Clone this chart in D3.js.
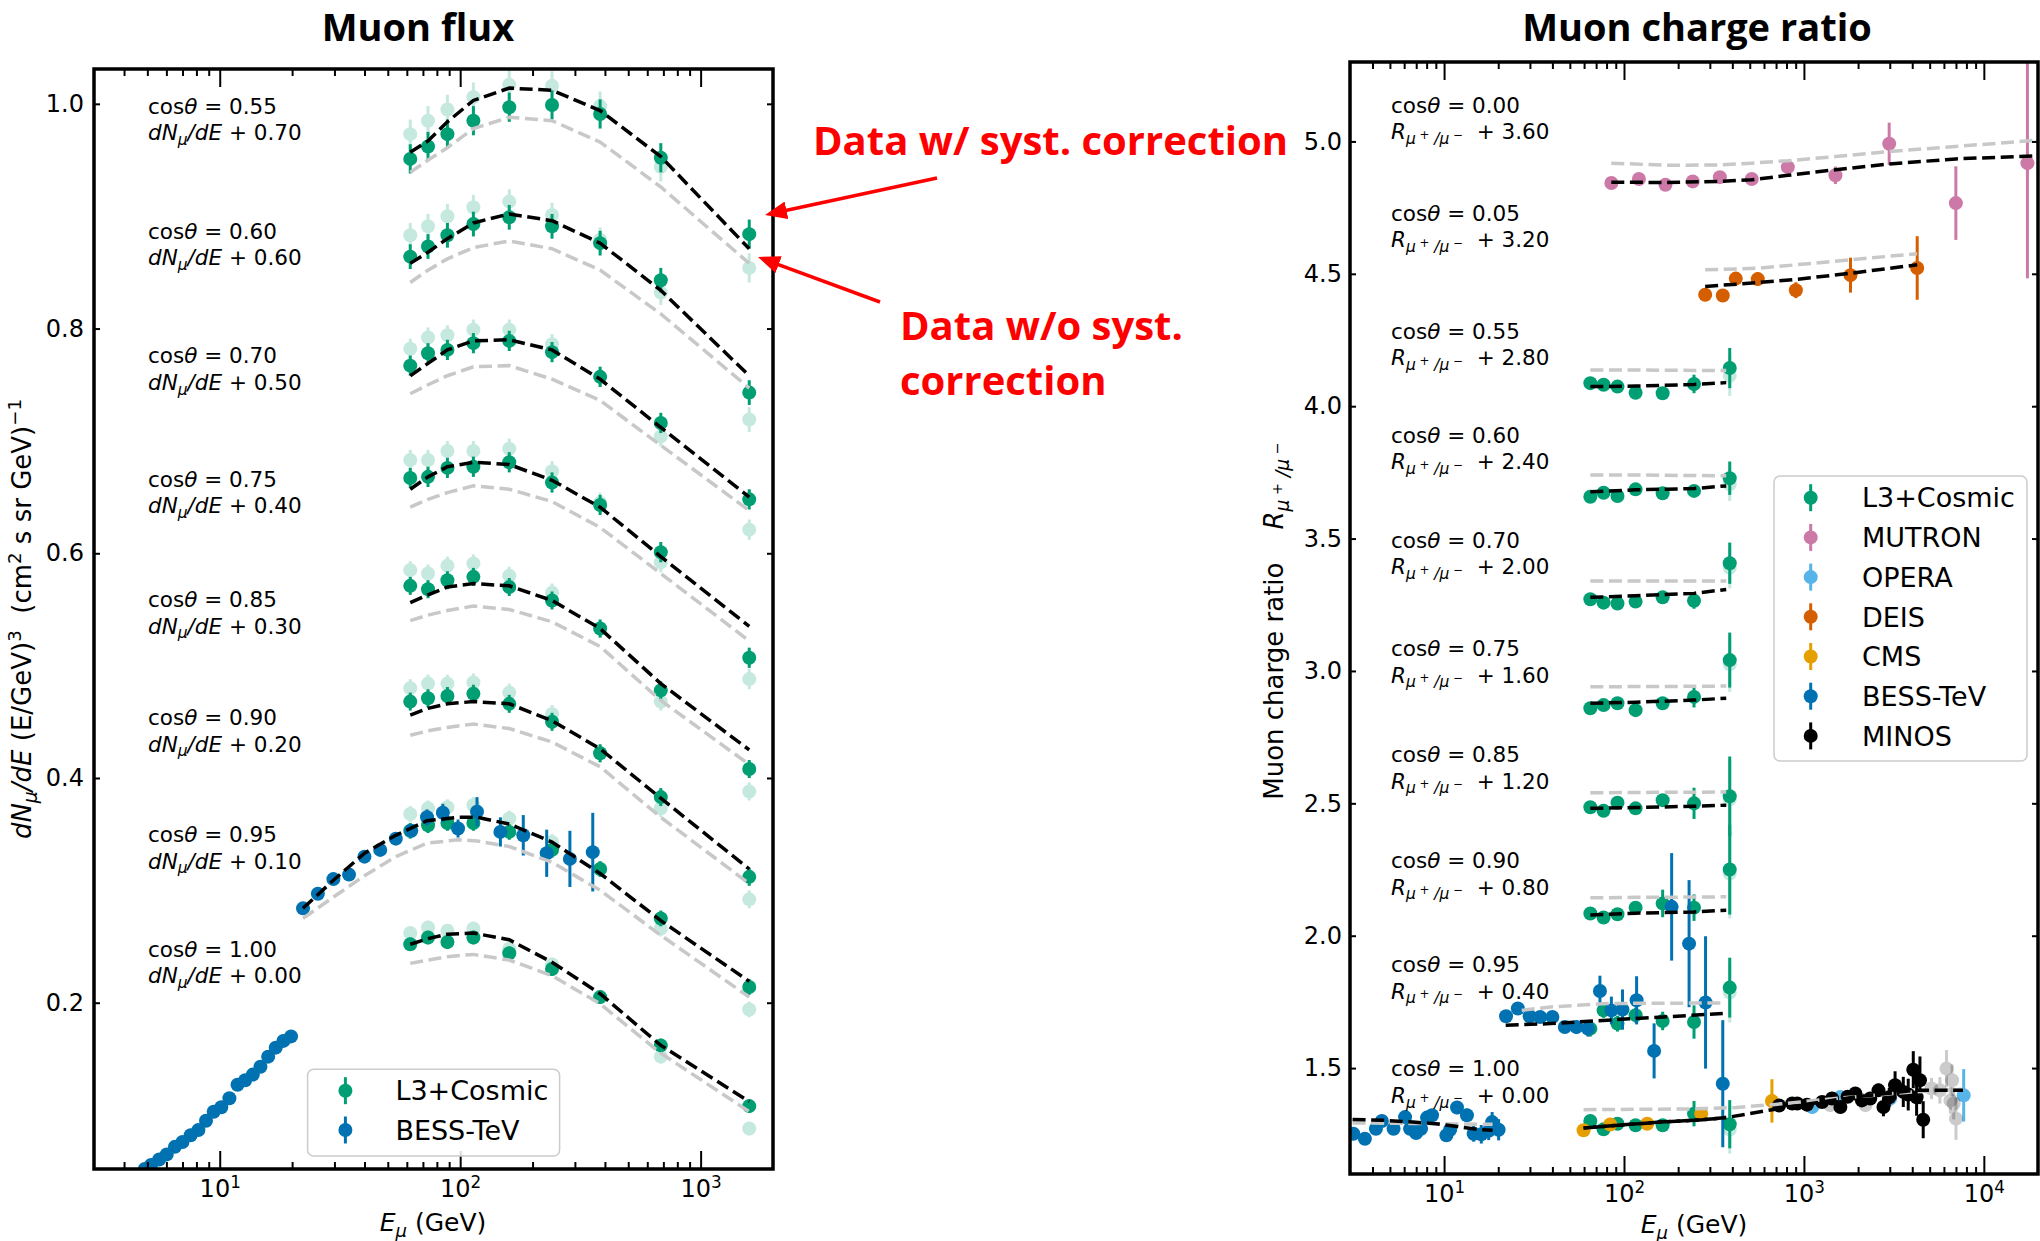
<!DOCTYPE html>
<html>
<head>
<meta charset="utf-8">
<title>Muon flux and charge ratio</title>
<script src="https://cdn.jsdelivr.net/npm/d3@7/dist/d3.min.js"></script>
<style>
  body { margin: 0; background: #fff; }
  svg text { white-space: pre; }
</style>
</head>
<body>
<svg id="fig" width="2040" height="1241"></svg>
<script>
/* ---------- Muon flux data (E in GeV, values already shifted) ---------- */

var fluxCos    = ["0.55", "0.60", "0.70", "0.75", "0.85", "0.90", "0.95", "1.00"];
var fluxShift  = ["0.70", "0.60", "0.50", "0.40", "0.30", "0.20", "0.10", "0.00"];
var fluxLabelY = [0.991, 0.880, 0.769, 0.659, 0.552, 0.447, 0.343, 0.241];

var l3FluxE = [62, 73.5, 88.5, 113.5, 160, 241, 382, 683, 1593];

var l3Flux = [
  [0.951, 0.962, 0.973, 0.985, 0.997, 0.999, 0.991, 0.952, 0.884],
  [0.864, 0.873, 0.883, 0.893, 0.899, 0.891, 0.876, 0.843, 0.743],
  [0.767, 0.778, 0.781, 0.787, 0.789, 0.779, 0.757, 0.716, 0.648],
  [0.667, 0.668, 0.676, 0.677, 0.681, 0.663, 0.643, 0.601, 0.507],
  [0.571, 0.568, 0.576, 0.579, 0.570, 0.558, 0.533, 0.478, 0.408],
  [0.468, 0.471, 0.473, 0.475, 0.466, 0.450, 0.422, 0.383, 0.312],
  [0.353, 0.358, 0.360, 0.360, 0.352, 0.336, 0.319, 0.275, 0.214],
  [0.252, 0.258, 0.254, 0.258, 0.244, 0.230, 0.205, 0.162, 0.108]
];
var l3FluxRaw = [
  [0.973, 0.985, 0.995, 1.006, 1.017, 1.016, 0.998, 0.944, 0.854],
  [0.883, 0.891, 0.900, 0.908, 0.913, 0.901, 0.879, 0.832, 0.719],
  [0.782, 0.792, 0.794, 0.799, 0.799, 0.786, 0.757, 0.704, 0.621],
  [0.683, 0.683, 0.691, 0.691, 0.693, 0.673, 0.645, 0.592, 0.488],
  [0.585, 0.582, 0.589, 0.591, 0.580, 0.565, 0.533, 0.468, 0.388],
  [0.480, 0.484, 0.484, 0.485, 0.476, 0.457, 0.422, 0.373, 0.292],
  [0.368, 0.373, 0.374, 0.376, 0.364, 0.343, 0.319, 0.266, 0.194],
  [0.262, 0.267, 0.264, 0.266, 0.248, 0.234, 0.205, 0.152, 0.088]
];
var l3FluxErr = [0.013, 0.011, 0.009, 0.009, 0.008, 0.008, 0.007, 0.006];

var flux95ModelE = [22.2, 29.7, 40, 54, 72.8, 98, 117.5, 160, 241, 382, 683, 1593];
var fluxModel = [
  [0.957, 0.967, 0.984, 1.003, 1.014, 1.012, 0.994, 0.953, 0.871],
  [0.858, 0.868, 0.880, 0.894, 0.902, 0.896, 0.876, 0.834, 0.758],
  [0.758, 0.769, 0.781, 0.789, 0.790, 0.781, 0.755, 0.712, 0.650],
  [0.657, 0.668, 0.677, 0.681, 0.679, 0.665, 0.641, 0.597, 0.535],
  [0.556, 0.563, 0.570, 0.573, 0.571, 0.558, 0.533, 0.484, 0.425],
  [0.456, 0.462, 0.466, 0.468, 0.466, 0.451, 0.426, 0.382, 0.319],
  [0.284, 0.309, 0.333, 0.349, 0.362, 0.365, 0.365, 0.359, 0.343, 0.315, 0.273, 0.219],
  [0.252, 0.257, 0.261, 0.262, 0.256, 0.236, 0.208, 0.162, 0.112]
];
var fluxModelRaw = [
  [0.939, 0.950, 0.961, 0.978, 0.988, 0.985, 0.966, 0.926, 0.858],
  [0.841, 0.852, 0.862, 0.872, 0.878, 0.871, 0.852, 0.813, 0.747],
  [0.742, 0.750, 0.758, 0.766, 0.767, 0.755, 0.736, 0.696, 0.638],
  [0.641, 0.648, 0.654, 0.660, 0.657, 0.646, 0.623, 0.582, 0.522],
  [0.540, 0.545, 0.549, 0.553, 0.550, 0.539, 0.517, 0.469, 0.412],
  [0.438, 0.442, 0.445, 0.448, 0.444, 0.432, 0.410, 0.365, 0.306],
  [0.275, 0.294, 0.313, 0.330, 0.342, 0.345, 0.344, 0.339, 0.325, 0.300, 0.260, 0.205],
  [0.235, 0.238, 0.241, 0.243, 0.238, 0.224, 0.199, 0.155, 0.103]
];

var bessFlux95E   = [22.2, 25.6, 29.7, 34.5, 40, 46.5, 54, 62.6, 72.8, 84.7, 98, 117.5, 147, 183, 229, 286, 356];
var bessFlux95    = [0.284, 0.297, 0.310, 0.314, 0.330, 0.336, 0.346, 0.353, 0.365, 0.369, 0.355, 0.370, 0.352, 0.349, 0.333, 0.328, 0.334];
var bessFlux95Err = [0.003, 0.003, 0.003, 0.003, 0.003, 0.003, 0.004, 0.005, 0.007, 0.008, 0.008, 0.013, 0.013, 0.018, 0.021, 0.025, 0.035];

var bessFlux100E = [4.88, 5.18, 5.6, 6.02, 6.51, 7.0, 7.57, 8.15, 8.77, 9.44, 10.15, 10.97, 11.86, 12.76, 13.73, 14.77, 15.9, 17.1, 18.4, 19.8];
var bessFlux100  = [0.052, 0.0555, 0.0605, 0.065, 0.0717, 0.076, 0.082, 0.0866, 0.0949, 0.103, 0.107, 0.115, 0.127, 0.131, 0.136, 0.143, 0.152, 0.160, 0.166, 0.170];
var bessFlux100Err = 0.002;

/* ---------- Muon charge ratio data ---------- */

var ratioCos    = ["0.00", "0.05", "0.55", "0.60", "0.70", "0.75", "0.85", "0.90", "0.95", "1.00"];
var ratioShift  = ["3.60", "3.20", "2.80", "2.40", "2.00", "1.60", "1.20", "0.80", "0.40", "0.00"];
var ratioLabelY = [5.108, 4.700, 4.254, 3.861, 3.465, 3.056, 2.656, 2.255, 1.862, 1.469];

// L3+Cosmic, cos = 0.55 ... 1.00
var l3RatioE = [65, 77, 92, 116, 164, 245, 387];
var l3Ratio = [
  [4.087, 4.081, 4.074, 4.051, 4.049, 4.084, 4.144],
  [3.658, 3.673, 3.661, 3.686, 3.671, 3.680, 3.728],
  [3.271, 3.258, 3.255, 3.262, 3.278, 3.265, 3.407],
  [2.859, 2.871, 2.878, 2.852, 2.878, 2.902, 3.041],
  [2.485, 2.472, 2.502, 2.481, 2.512, 2.500, 2.527],
  [2.084, 2.069, 2.081, 2.106, 2.122, 2.106, 2.250],
  [1.649, 1.718, 1.668, 1.700, 1.678, 1.674, 1.804],
  [1.300, 1.269, 1.290, 1.284, 1.284, 1.328, 1.288]
];
var l3RatioErr = [
  [0.015, 0.015, 0.015, 0.015, 0.015, 0.035, 0.076],
  [0.012, 0.012, 0.012, 0.012, 0.012, 0.020, 0.063],
  [0.012, 0.012, 0.012, 0.012, 0.015, 0.030, 0.078],
  [0.012, 0.012, 0.012, 0.012, 0.015, 0.040, 0.104],
  [0.012, 0.012, 0.012, 0.012, 0.020, 0.059, 0.150],
  [0.015, 0.015, 0.015, 0.020, 0.052, 0.050, 0.170],
  [0.030, 0.028, 0.030, 0.028, 0.035, 0.063, 0.113],
  [0.020, 0.020, 0.020, 0.020, 0.020, 0.048, 0.091]
];
var l3RatioRawLast = [4.115, 3.705, 3.390, 3.025, 2.515, 2.235, 1.785, 1.268];

var l3RatioModelE = [65, 116, 245, 370];
var l3RatioModel = [
  [4.074, 4.076, 4.082, 4.089],
  [3.677, 3.684, 3.689, 3.699],
  [3.278, 3.284, 3.293, 3.308],
  [2.878, 2.882, 2.890, 2.897],
  [2.481, 2.484, 2.489, 2.493],
  [2.078, 2.085, 2.090, 2.096]
];
var l3RatioModelRaw = [
  [4.137, 4.137, 4.135, 4.135],
  [3.740, 3.740, 3.738, 3.737],
  [3.340, 3.340, 3.340, 3.340],
  [2.940, 2.941, 2.942, 2.943],
  [2.540, 2.541, 2.542, 2.543],
  [2.143, 2.145, 2.146, 2.147]
];

var ratio95ModelE    = [22, 39, 91, 354];
var ratio95Model     = [1.662, 1.668, 1.683, 1.706];
var ratio95ModelRawE = [27, 39, 80, 354];
var ratio95ModelRaw  = [1.718, 1.731, 1.744, 1.746];

var mutronE   = [85.1, 121, 170, 241, 341, 513, 814, 1497, 2978, 6990, 17470];
var mutron    = [4.843, 4.858, 4.836, 4.849, 4.865, 4.858, 4.903, 4.872, 4.991, 4.767, 4.918];
var mutronErr = [0.010, 0.010, 0.010, 0.010, 0.012, 0.012, 0.020, 0.033, 0.080, 0.139, 0.435];
var mutronModelE   = [85, 170, 341, 513, 814, 1497, 2978, 6990, 20000];
var mutronModel    = [4.846, 4.845, 4.849, 4.855, 4.872, 4.893, 4.915, 4.934, 4.946];
var mutronModelRaw = [4.918, 4.910, 4.911, 4.918, 4.927, 4.943, 4.962, 4.981, 5.005];

var deisE   = [282.6, 354, 418, 554, 902, 1815, 4262];
var deis    = [4.421, 4.418, 4.482, 4.480, 4.438, 4.495, 4.522];
var deisErr = [0.015, 0.015, 0.025, 0.025, 0.030, 0.066, 0.120];
var deisModelE   = [282.6, 554, 902, 1815, 4262];
var deisModel    = [4.452, 4.467, 4.479, 4.502, 4.534];
var deisModelRaw = [4.515, 4.521, 4.534, 4.553, 4.576];

var bessRatio95E   = [22.1, 25.7, 29.9, 34.2, 40, 46.9, 54.4, 63, 73.5, 85.1, 98.1, 117.5, 147, 184, 230, 284, 354];
var bessRatio95    = [1.696, 1.725, 1.696, 1.693, 1.693, 1.655, 1.655, 1.649, 1.791, 1.718, 1.721, 1.756, 1.565, 2.109, 1.970, 1.748, 1.441];
var bessRatio95Err = [0.012, 0.012, 0.012, 0.012, 0.015, 0.020, 0.025, 0.030, 0.058, 0.052, 0.076, 0.091, 0.104, 0.203, 0.240, 0.250, 0.240];

var bessRatio100E   = [3.13, 3.63, 4.18, 4.51, 5.24, 6.07, 6.47, 6.99, 7.45, 8.04, 8.57, 10.3, 10.8, 11.8, 13.4, 14.6, 16.1, 17.7, 18.5, 20.1];
var bessRatio100    = [1.252, 1.233, 1.271, 1.300, 1.271, 1.315, 1.271, 1.255, 1.271, 1.313, 1.322, 1.246, 1.267, 1.351, 1.322, 1.252, 1.250, 1.263, 1.296, 1.267];
var bessRatio100Err = [0.012, 0.012, 0.012, 0.012, 0.012, 0.015, 0.015, 0.015, 0.015, 0.018, 0.018, 0.020, 0.020, 0.025, 0.025, 0.030, 0.035, 0.035, 0.038, 0.040];
var bessModelE   = [3.1, 4.58, 6.7, 9.0, 11.6, 15.6, 18.6];
var bessModel    = [1.306, 1.303, 1.296, 1.290, 1.280, 1.268, 1.265];
var bessModelRaw = [1.293, 1.292, 1.291, 1.290, 1.289, 1.288, 1.288];

var cmsE   = [59.6, 83.8, 134.7, 268.5, 664];
var cms    = [1.265, 1.287, 1.290, 1.328, 1.376];
var cmsErr = [0.010, 0.010, 0.010, 0.015, 0.082];

var operaE   = [1112, 1595, 3013, 7727];
var opera    = [1.353, 1.391, 1.385, 1.397];
var operaErr = [0.015, 0.020, 0.030, 0.099];

var minosE   = [728, 861, 918, 1040, 1262, 1433, 1595, 1750, 1931, 2100, 2337, 2597, 2767, 2980, 3211, 3567, 3800, 4053, 4230, 4414, 4603];
var minos    = [1.359, 1.366, 1.366, 1.362, 1.372, 1.385, 1.353, 1.392, 1.404, 1.378, 1.385, 1.416, 1.353, 1.390, 1.435, 1.410, 1.400, 1.494, 1.390, 1.454, 1.305];
var minosErr = [0.008, 0.008, 0.009, 0.010, 0.010, 0.012, 0.014, 0.015, 0.017, 0.020, 0.022, 0.025, 0.035, 0.035, 0.053, 0.057, 0.060, 0.070, 0.070, 0.090, 0.070];

var fadedE   = [1400, 2200, 5117, 5700, 6200, 6520, 6660, 6800, 7000];
var faded    = [1.360, 1.360, 1.423, 1.416, 1.498, 1.378, 1.454, 1.366, 1.309];
var fadedErr = [0.015, 0.020, 0.040, 0.050, 0.070, 0.050, 0.060, 0.060, 0.080];

var vertModelE    = [59.6, 158, 274, 369, 668, 826, 1931, 4140, 7660];
var vertModel     = [1.274, 1.296, 1.305, 1.313, 1.343, 1.353, 1.391, 1.416, 1.416];
var vertModelRawE = [59.6, 250, 420, 668, 1500, 4000, 7660];
var vertModelRaw  = [1.343, 1.346, 1.351, 1.362, 1.385, 1.410, 1.420];

/* ---------- Style ---------- */

var FONT = "DejaVu Sans", TITLE_FONT = "Open Sans";
var COL = { l3: "#009e73", mutron: "#cc79a7", opera: "#56b4e9", deis: "#d55e00",
            cms: "#e69f00", bess: "#0072b2", minos: "#000000",
            model: "#000000", modelRaw: "#c8c8c8" };
var MARKER_R = 7, RAW_ALPHA = 0.22, NOTE_SIZE = 21.5;

var svg = d3.select("#fig").attr("font-family", FONT);

/* ---------- helpers ---------- */

function addDefs() {
  var defs = svg.append("defs");
  defs.append("marker")
    .attr("id", "redhead")
    .attr("viewBox", "0 0 22 18")
    .attr("refX", 14)
    .attr("refY", 9)
    .attr("markerUnits", "userSpaceOnUse")
    .attr("markerWidth", 22)
    .attr("markerHeight", 18)
    .attr("orient", "auto")
    .append("path")
    .attr("d", "M0,0 L22,9 L0,18 z")
    .attr("fill", "#ff0000");
  defs.append("clipPath").attr("id", "clipF").append("rect")
    .attr("x", 94).attr("y", 69).attr("width", 679).attr("height", 1100);
  defs.append("clipPath").attr("id", "clipR").append("rect")
    .attr("x", 1350).attr("y", 62).attr("width", 688).attr("height", 1112);
}

// text made of pieces: [string, kind, italic]; kind = "", "sub", "sup", "subsup"
function rich(text, parts, size) {
  var lift  = { base: 0, sub: 0.22, sup: -0.38, subsup: -0.02 };
  var scale = { base: 1, sub: 0.72, sup: 0.7, subsup: 0.55 };
  var cur = 0;
  parts.forEach(function(p) {
    var k = p[1] || "base";
    var target = lift[k] * size;
    text.append("tspan")
      .attr("dy", (target - cur).toFixed(2))
      .attr("font-size", scale[k] * size)
      .attr("font-style", p[2] ? "italic" : "normal")
      .text(p[0]);
    cur = target;
  });
  return text;
}

function frame(x, y, majorX, yTicks, labelPad) {
  var L = x.range()[0], R = x.range()[1], B = y.range()[0], T = y.range()[1];
  var minorX = [];
  for (var p = 0; p <= 4; p++)
    for (var m = 2; m <= 9; m++) {
      var v = m * Math.pow(10, p);
      if (v > x.domain()[0] && v < x.domain()[1]) minorX.push(v);
    }
  function put(axis, tx, ty) {
    var g = svg.append("g").attr("transform", "translate(" + tx + "," + ty + ")").call(axis);
    g.select(".domain").remove();
    g.selectAll("line").attr("stroke", "#000").attr("stroke-width", 2);
    g.attr("font-family", FONT).attr("font-size", 24);
    return g;
  }
  put(d3.axisBottom(x).tickValues(minorX).tickSize(-7).tickFormat(""), 0, B);
  put(d3.axisTop(x).tickValues(minorX).tickSize(-7).tickFormat(""), 0, T);
  var bx = put(d3.axisBottom(x).tickValues(majorX).tickSize(-18).tickFormat(""), 0, B);
  put(d3.axisTop(x).tickValues(majorX).tickSize(-18).tickFormat(""), 0, T);
  bx.selectAll(".tick").each(function(d) {
    var t = d3.select(this).append("text")
      .attr("y", 28).attr("text-anchor", "middle").attr("fill", "#000");
    rich(t, [["10"], [String(Math.round(Math.log10(d))), "sup"]], 24);
  });
  put(d3.axisLeft(y).tickValues(yTicks).tickSize(-6).tickPadding(labelPad)
        .tickFormat(d3.format(".1f")), L, 0)
    .selectAll("text").attr("fill", "#000");
  put(d3.axisRight(y).tickValues(yTicks).tickSize(-6).tickFormat(""), R, 0);
  svg.append("rect")
    .attr("x", L).attr("y", T).attr("width", R - L).attr("height", B - T)
    .attr("fill", "none").attr("stroke", "#000").attr("stroke-width", 3.5);
}

function points(g, x, y, E, V, Err, color, alpha) {
  var err = function(i) { return Array.isArray(Err) ? Err[i] : Err; };
  var pg = g.append("g").selectAll("g").data(V).join("g").attr("opacity", alpha);
  pg.append("line")
    .attr("x1", function(d, i) { return x(E[i]); })
    .attr("x2", function(d, i) { return x(E[i]); })
    .attr("y1", function(d, i) { return y(d - err(i)); })
    .attr("y2", function(d, i) { return y(d + err(i)); })
    .attr("stroke", color).attr("stroke-width", 3);
  pg.append("circle")
    .attr("cx", function(d, i) { return x(E[i]); })
    .attr("cy", function(d) { return y(d); })
    .attr("r", MARKER_R).attr("fill", color);
}

function dashed(g, x, y, E, V, color, offset) {
  g.append("path")
    .attr("d", d3.line().x(function(d, i) { return x(E[i]); }).y(function(d) { return y(d); })(V))
    .attr("fill", "none").attr("stroke", color).attr("stroke-width", 3.5)
    .attr("stroke-dasharray", "13,5.6").attr("stroke-dashoffset", offset || 0);
}

function legend(x0, y0, w, h, items, rowY, step, mx, tx) {
  var g = svg.append("g");
  g.append("rect").attr("x", x0).attr("y", y0).attr("width", w).attr("height", h)
    .attr("rx", 6).attr("fill", "#fff").attr("fill-opacity", 0.85)
    .attr("stroke", "#cccccc").attr("stroke-width", 1.5);
  items.forEach(function(it, i) {
    var cy = rowY + i * step;
    g.append("line").attr("x1", mx).attr("x2", mx).attr("y1", cy - 13.5).attr("y2", cy + 13.5)
      .attr("stroke", it[1]).attr("stroke-width", 3);
    g.append("circle").attr("cx", mx).attr("cy", cy).attr("r", MARKER_R).attr("fill", it[1]);
    g.append("text").attr("x", tx).attr("y", cy).attr("dy", "0.36em")
      .attr("font-size", 27).text(it[0]);
  });
}

addDefs();

/* ---------- left panel: Muon flux ---------- */

var xF = d3.scaleLog().domain([3, 2000]).range([94, 773]);
var yF = d3.scaleLinear().domain([0.052, 1.031]).range([1169, 69]);

var gF = svg.append("g").attr("clip-path", "url(#clipF)");
l3Flux.forEach(function(s, i) {
  points(gF, xF, yF, l3FluxE, l3FluxRaw[i], l3FluxErr[i], COL.l3, RAW_ALPHA);
});
l3Flux.forEach(function(s, i) {
  points(gF, xF, yF, l3FluxE, s, l3FluxErr[i], COL.l3, 1);
});
points(gF, xF, yF, bessFlux95E, bessFlux95, bessFlux95Err, COL.bess, 1);
points(gF, xF, yF, bessFlux100E, bessFlux100, bessFlux100Err, COL.bess, 1);
fluxModelRaw.forEach(function(s, i) {
  dashed(gF, xF, yF, i === 6 ? flux95ModelE : l3FluxE, s, COL.modelRaw);
});
fluxModel.forEach(function(s, i) {
  dashed(gF, xF, yF, i === 6 ? flux95ModelE : l3FluxE, s, COL.model);
});

frame(xF, yF, [10, 100, 1000], [0.2, 0.4, 0.6, 0.8, 1.0], 10);

fluxCos.forEach(function(c, i) {
  var by = yF(fluxLabelY[i]);
  rich(svg.append("text").attr("x", 148).attr("y", by),
       [["cos"], ["θ", "", true], [" = " + c]], NOTE_SIZE);
  rich(svg.append("text").attr("x", 148).attr("y", by + 26.5),
       [["dN", "", true], ["μ", "sub", true], ["/dE", "", true], [" + " + fluxShift[i]]], NOTE_SIZE);
});

legend(307.6, 1069.3, 252, 86.7, [["L3+Cosmic", COL.l3], ["BESS-TeV", COL.bess]],
       1090.7, 39.3, 345.4, 395.4);

rich(svg.append("text").attr("x", 433).attr("y", 1231).attr("text-anchor", "middle"),
     [["E", "", true], ["μ", "sub", true], [" (GeV)"]], 25);
rich(svg.append("text").attr("transform", "translate(31,619) rotate(-90)").attr("text-anchor", "middle"),
     [["dN", "", true], ["μ", "sub", true], ["/dE", "", true], [" (E/GeV)"], ["3", "sup"],
      ["  (cm"], ["2", "sup"], [" s sr GeV)"], ["−1", "sup"]], 26);

svg.append("text").attr("x", 418).attr("y", 41).attr("text-anchor", "middle")
  .attr("font-family", TITLE_FONT).attr("font-weight", "bold").attr("font-size", 38)
  .text("Muon flux");

/* ---------- right panel: Muon charge ratio ---------- */

var xR = d3.scaleLog().domain([3, 20000]).range([1350, 2038]);
var yR = d3.scaleLinear().domain([1.1, 5.3]).range([1174, 62]);

var gR = svg.append("g").attr("clip-path", "url(#clipR)");
l3RatioRawLast.forEach(function(v, i) {
  points(gR, xR, yR, [l3RatioE[6]], [v], [l3RatioErr[i][6]], COL.l3, RAW_ALPHA);
});
l3Ratio.forEach(function(s, i) {
  points(gR, xR, yR, l3RatioE, s, l3RatioErr[i], COL.l3, 1);
});
points(gR, xR, yR, mutronE, mutron, mutronErr, COL.mutron, 1);
points(gR, xR, yR, operaE, opera, operaErr, COL.opera, 1);
points(gR, xR, yR, deisE, deis, deisErr, COL.deis, 1);
points(gR, xR, yR, cmsE, cms, cmsErr, COL.cms, 1);
points(gR, xR, yR, bessRatio95E, bessRatio95, bessRatio95Err, COL.bess, 1);
points(gR, xR, yR, bessRatio100E, bessRatio100, bessRatio100Err, COL.bess, 1);
points(gR, xR, yR, fadedE, faded, fadedErr, COL.minos, 0.2);
points(gR, xR, yR, minosE, minos, minosErr, COL.minos, 1);

dashed(gR, xR, yR, mutronModelE, mutronModelRaw, COL.modelRaw);
dashed(gR, xR, yR, deisModelE, deisModelRaw, COL.modelRaw);
l3RatioModelRaw.forEach(function(s) { dashed(gR, xR, yR, l3RatioModelE, s, COL.modelRaw); });
dashed(gR, xR, yR, ratio95ModelRawE, ratio95ModelRaw, COL.modelRaw);
dashed(gR, xR, yR, bessModelE, bessModelRaw, COL.modelRaw);
dashed(gR, xR, yR, vertModelRawE, vertModelRaw, COL.modelRaw);

dashed(gR, xR, yR, mutronModelE, mutronModel, COL.model);
dashed(gR, xR, yR, deisModelE, deisModel, COL.model);
l3RatioModel.forEach(function(s) { dashed(gR, xR, yR, l3RatioModelE, s, COL.model); });
dashed(gR, xR, yR, ratio95ModelE, ratio95Model, COL.model);
dashed(gR, xR, yR, bessModelE, bessModel, COL.model);
dashed(gR, xR, yR, vertModelE, vertModel, COL.model);
dashed(gR, xR, yR, vertModelE.slice(0, 4), vertModel.slice(0, 4), COL.model, 9);

frame(xR, yR, [10, 100, 1000, 10000], [1.5, 2.0, 2.5, 3.0, 3.5, 4.0, 4.5, 5.0], 8);

ratioCos.forEach(function(c, i) {
  var by = yR(ratioLabelY[i]);
  rich(svg.append("text").attr("x", 1391).attr("y", by),
       [["cos"], ["θ", "", true], [" = " + c]], NOTE_SIZE);
  rich(svg.append("text").attr("x", 1391).attr("y", by + 26.5),
       [["R", "", true], ["μ", "sub", true], [" +", "subsup"], [" /μ", "sub", true], [" −", "subsup"],
        ["  + " + ratioShift[i]]], NOTE_SIZE);
});

legend(1774, 476, 253, 285,
       [["L3+Cosmic", COL.l3], ["MUTRON", COL.mutron], ["OPERA", COL.opera], ["DEIS", COL.deis],
        ["CMS", COL.cms], ["BESS-TeV", COL.bess], ["MINOS", COL.minos]],
       497.7, 39.7, 1810.7, 1862);

rich(svg.append("text").attr("x", 1694).attr("y", 1233).attr("text-anchor", "middle"),
     [["E", "", true], ["μ", "sub", true], [" (GeV)"]], 25);
rich(svg.append("text").attr("transform", "translate(1283,621) rotate(-90)").attr("text-anchor", "middle"),
     [["Muon charge ratio    "], ["R", "", true], ["μ", "sub", true], [" +", "subsup"],
      [" /μ", "sub", true], [" −", "subsup"]], 26);

svg.append("text").attr("x", 1697).attr("y", 41).attr("text-anchor", "middle")
  .attr("font-family", TITLE_FONT).attr("font-weight", "bold").attr("font-size", 38)
  .text("Muon charge ratio");

/* ---------- red annotations ---------- */

var red = svg.append("g").attr("fill", "#ff0000")
  .attr("font-family", TITLE_FONT).attr("font-weight", "bold").attr("font-size", 40);
red.append("text").attr("x", 813).attr("y", 155).text("Data w/ syst. correction");
red.append("text").attr("x", 900).attr("y", 340).text("Data w/o syst.");
red.append("text").attr("x", 900).attr("y", 395).text("correction");

[[937, 178, 765, 215], [880, 302, 758, 257]].forEach(function(a) {
  var dx = a[2] - a[0], dy = a[3] - a[1], len = Math.sqrt(dx * dx + dy * dy);
  svg.append("line")
    .attr("x1", a[0]).attr("y1", a[1])
    .attr("x2", a[2] - dx / len * 8).attr("y2", a[3] - dy / len * 8)
    .attr("stroke", "#ff0000").attr("stroke-width", 3.5)
    .attr("marker-end", "url(#redhead)");
});
</script>
</body>
</html>
